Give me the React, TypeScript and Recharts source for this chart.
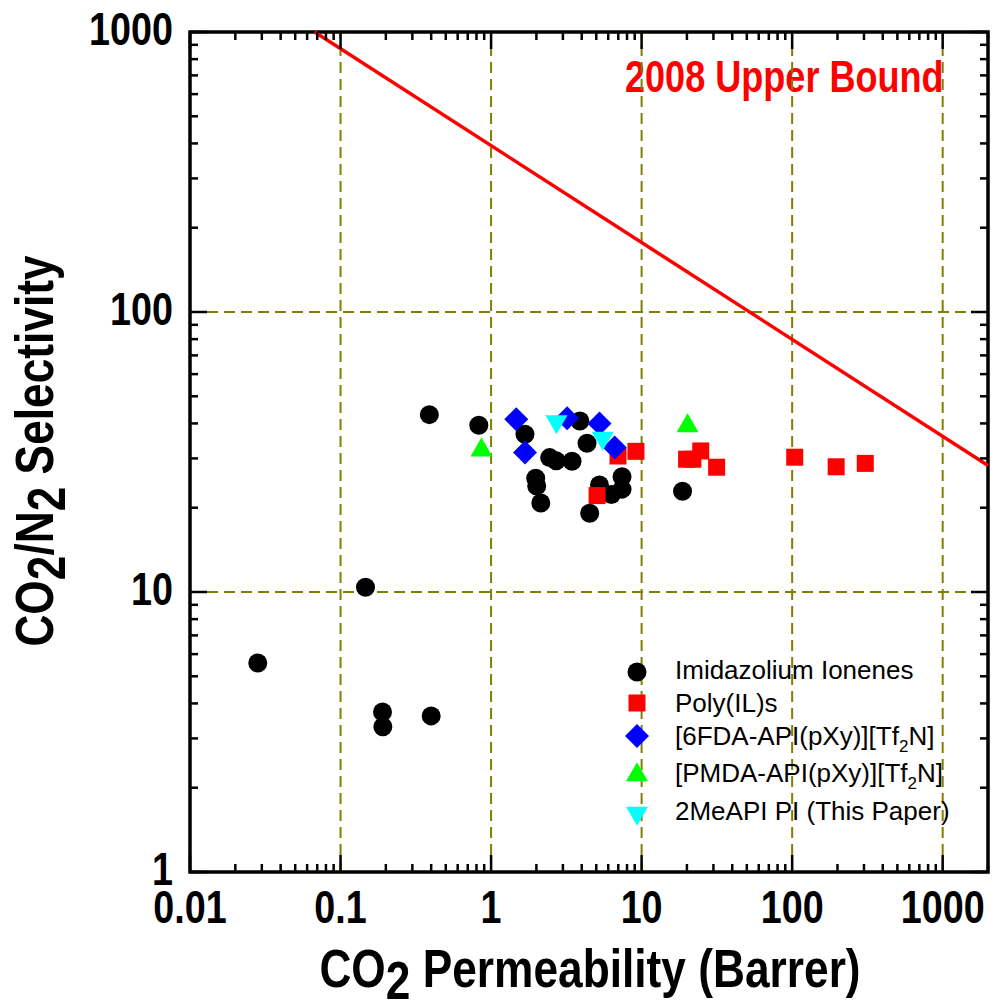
import { ScatterChart, Scatter, XAxis, YAxis, ReferenceLine, ReferenceArea, Legend, Customized } from "recharts";

// CO2 permeability (Barrer) vs CO2/N2 selectivity
const imidazoliumIonenes = [
  { x: 0.0282, y: 5.58 }, { x: 0.1465, y: 10.4 }, { x: 0.19, y: 3.73 }, { x: 0.191, y: 3.3 },
  { x: 0.4, y: 3.61 }, { x: 0.389, y: 43.0 }, { x: 0.829, y: 39.4 }, { x: 1.68, y: 36.6 },
  { x: 3.89, y: 40.8 }, { x: 4.34, y: 34.0 }, { x: 2.45, y: 30.2 }, { x: 2.71, y: 29.4 },
  { x: 3.45, y: 29.3 }, { x: 1.98, y: 25.5 }, { x: 2.01, y: 23.9 }, { x: 2.14, y: 20.8 },
  { x: 4.52, y: 19.1 }, { x: 5.25, y: 24.1 }, { x: 6.3, y: 22.3 }, { x: 7.41, y: 25.8 },
  { x: 7.41, y: 23.3 }, { x: 18.7, y: 22.9 },
];
const polyILs = [
  { x: 6.97, y: 30.6 }, { x: 9.17, y: 31.8 }, { x: 5.06, y: 22.1 }, { x: 19.9, y: 29.8 },
  { x: 21.9, y: 29.8 }, { x: 24.7, y: 31.9 }, { x: 31.5, y: 27.9 }, { x: 104, y: 30.3 },
  { x: 196, y: 28.0 }, { x: 306, y: 28.8 },
];
const fda6 = [
  { x: 1.47, y: 41.4 }, { x: 1.68, y: 31.5 }, { x: 3.2, y: 41.7 }, { x: 5.25, y: 40.0 }, { x: 6.63, y: 32.8 },
];
const pmda = [{ x: 0.863, y: 32.1 }, { x: 20.2, y: 39.2 }];
const meApi = [{ x: 2.72, y: 40.6 }, { x: 5.52, y: 35.5 }];

const upperBound2008 = [{ x: 0.0673, y: 1000 }, { x: 2000, y: 28.3 }];

const xMajorTicks = [0.01, 0.1, 1, 10, 100, 1000];
const xTickLabels = ["0.01", "0.1", "1", "10", "100", "1000"];
const yMajorTicks = [1, 10, 100, 1000];
const yTickLabels = ["1", "10", "100", "1000"];
const xGrid = [0.1, 1, 10, 100, 1000];
const yGrid = [10, 100];

const withMinors = (decades: number[]) =>
  decades.flatMap((d) => [1, 2, 3, 4, 5, 6, 7, 8, 9].map((m) => Number((m * d).toPrecision(3))));
const xAllTicks = [...withMinors([0.01, 0.1, 1, 10, 100]), 1000, 2000];
const yAllTicks = [...withMinors([1, 10, 100]), 1000];

const W = 995;
const H = 1006;
const TOP = 32;
const BOTTOM = 872;
const LEFT = 190;
const RIGHT = 988;

// narrow bold look: Liberation Sans Bold squeezed horizontally
const BOLD = "'Liberation Sans', Arial, sans-serif";
const SQ = 0.82;
const SANS = "'Liberation Sans', Arial, sans-serif";

type Kind = "circle" | "square" | "diamond" | "up" | "down";

const Marker = ({ kind, cx, cy, color }: { kind: Kind; cx: number; cy: number; color: string }) => {
  if (kind === "circle") return <circle cx={cx} cy={cy} r={9.5} fill={color} />;
  if (kind === "square") return <rect x={cx - 8.5} y={cy - 8.5} width={17} height={17} fill={color} />;
  if (kind === "diamond") {
    const d = 12;
    return <polygon points={`${cx},${cy - d} ${cx + d},${cy} ${cx},${cy + d} ${cx - d},${cy}`} fill={color} />;
  }
  if (kind === "up")
    return <polygon points={`${cx},${cy - 12.7} ${cx + 11},${cy + 6.3} ${cx - 11},${cy + 6.3}`} fill={color} />;
  return <polygon points={`${cx},${cy + 12.7} ${cx + 11},${cy - 6.3} ${cx - 11},${cy - 6.3}`} fill={color} />;
};

const shapeFor = (kind: Kind, color: string) => (props: any) =>
  <Marker kind={kind} cx={props.cx} cy={props.cy} color={color} />;

const XTick = ({ x, payload }: any) => {
  const i = xMajorTicks.indexOf(payload.value);
  const len = i >= 0 ? 17 : 8;
  return (
    <g>
      <line x1={x} x2={x} y1={BOTTOM} y2={BOTTOM - len} stroke="#000" strokeWidth={2.5} />
      <line x1={x} x2={x} y1={TOP} y2={TOP + len} stroke="#000" strokeWidth={2.5} />
      {i >= 0 && (
        <text transform={`translate(${x},923) scale(${SQ},1)`} textAnchor="middle" fontFamily={BOLD} fontWeight="bold" fontSize={46} fill="#000">
          {xTickLabels[i]}
        </text>
      )}
    </g>
  );
};

const YTick = ({ y, payload }: any) => {
  const i = yMajorTicks.indexOf(payload.value);
  const len = i >= 0 ? 17 : 8;
  return (
    <g>
      <line x1={LEFT} x2={LEFT + len} y1={y} y2={y} stroke="#000" strokeWidth={2.5} />
      <line x1={RIGHT} x2={RIGHT - len} y1={y} y2={y} stroke="#000" strokeWidth={2.5} />
      {i >= 0 && (
        <text transform={`translate(173,${y + 13}) scale(${SQ},1)`} textAnchor="end" fontFamily={BOLD} fontWeight="bold" fontSize={46} fill="#000">
          {yTickLabels[i]}
        </text>
      )}
    </g>
  );
};

const Titles = () => (
  <g>
    <text transform={`translate(590,987) scale(${SQ},1)`} textAnchor="middle" fontFamily={BOLD} fontWeight="bold" fontSize={54} fill="#000">
      CO<tspan dy={12}>2</tspan><tspan dy={-12}> Permeability (Barrer)</tspan>
    </text>
    <text transform={`translate(53,451) rotate(-90) scale(${SQ},1)`} textAnchor="middle" fontFamily={BOLD} fontWeight="bold" fontSize={54} fill="#000">
      CO<tspan dy={12}>2</tspan><tspan dy={-12}>/N</tspan><tspan dy={12}>2</tspan><tspan dy={-12}> Selectivity</tspan>
    </text>
    <text transform={`translate(625,92) scale(${SQ},1)`} fontFamily={BOLD} fontWeight="bold" fontSize={44} fill="#ff0000">
      2008 Upper Bound
    </text>
  </g>
);

const legendRows: { kind: Kind; color: string; my: number; ty: number; label: any }[] = [
  { kind: "circle", color: "#000", my: 22, ty: 28.5, label: "Imidazolium Ionenes" },
  { kind: "square", color: "#ff0000", my: 53, ty: 61.5, label: "Poly(IL)s" },
  { kind: "diamond", color: "#0000ff", my: 86, ty: 95, label: ["[6FDA-API(pXy)][Tf", "N]"] },
  { kind: "up", color: "#00ff00", my: 125, ty: 132, label: ["[PMDA-API(pXy)][Tf", "N]"] },
  { kind: "down", color: "#00ffff", my: 163, ty: 170, label: "2MeAPI PI (This Paper)" },
];

const renderLegend = () => (
  <svg width={375} height={190} style={{ display: "block" }}>
    {legendRows.map((r, i) => (
      <g key={i}>
        <Marker kind={r.kind} cx={22} cy={r.my} color={r.color} />
        <text x={60} y={r.ty} fontFamily={SANS} fontSize={26} fill="#000">
          {Array.isArray(r.label) ? (
            <>
              {r.label[0]}
              <tspan dy={7} fontSize={17}>2</tspan>
              <tspan dy={-7}>{r.label[1]}</tspan>
            </>
          ) : (
            r.label
          )}
        </text>
      </g>
    ))}
  </svg>
);

export default function App() {
  return (
    <div style={{ position: "absolute", left: 0, top: 0, width: W, height: H, background: "#fff" }}>
      <ScatterChart width={W} height={H} margin={{ top: TOP, right: W - RIGHT, left: 0, bottom: 0 }}>
        <XAxis
          type="number"
          dataKey="x"
          scale="log"
          domain={[0.01, 2000]}
          allowDataOverflow
          ticks={xAllTicks}
          interval={0}
          height={H - BOTTOM}
          axisLine={false}
          tickLine={false}
          tick={<XTick />}
        />
        <YAxis
          type="number"
          dataKey="y"
          scale="log"
          domain={[1, 1000]}
          allowDataOverflow
          ticks={yAllTicks}
          interval={0}
          width={LEFT}
          axisLine={false}
          tickLine={false}
          tick={<YTick />}
        />
        {xGrid.map((v) => (
          <ReferenceLine key={`gx${v}`} x={v} stroke="#808000" strokeWidth={2} strokeDasharray="11 6" />
        ))}
        {yGrid.map((v) => (
          <ReferenceLine key={`gy${v}`} y={v} stroke="#808000" strokeWidth={2} strokeDasharray="11 6" />
        ))}
        <ReferenceLine segment={upperBound2008} stroke="#ff0000" strokeWidth={3.5} ifOverflow="visible" />
        <ReferenceArea x1={0.01} x2={2000} y1={1} y2={1000} fill="none" stroke="#000" strokeWidth={3.5} ifOverflow="visible" />
        <Scatter name="Imidazolium Ionenes" data={imidazoliumIonenes} shape={shapeFor("circle", "#000")} isAnimationActive={false} />
        <Scatter name="Poly(IL)s" data={polyILs} shape={shapeFor("square", "#ff0000")} isAnimationActive={false} />
        <Scatter name="[6FDA-API(pXy)][Tf2N]" data={fda6} shape={shapeFor("diamond", "#0000ff")} isAnimationActive={false} />
        <Scatter name="[PMDA-API(pXy)][Tf2N]" data={pmda} shape={shapeFor("up", "#00ff00")} isAnimationActive={false} />
        <Scatter name="2MeAPI PI (This Paper)" data={meApi} shape={shapeFor("down", "#00ffff")} isAnimationActive={false} />
        <Legend
          layout="horizontal"
          verticalAlign="middle"
          align="center"
          content={renderLegend}
          wrapperStyle={{ left: 615, top: 650, width: 375, height: 190 }}
        />
        <Customized component={Titles} />
      </ScatterChart>
    </div>
  );
}
